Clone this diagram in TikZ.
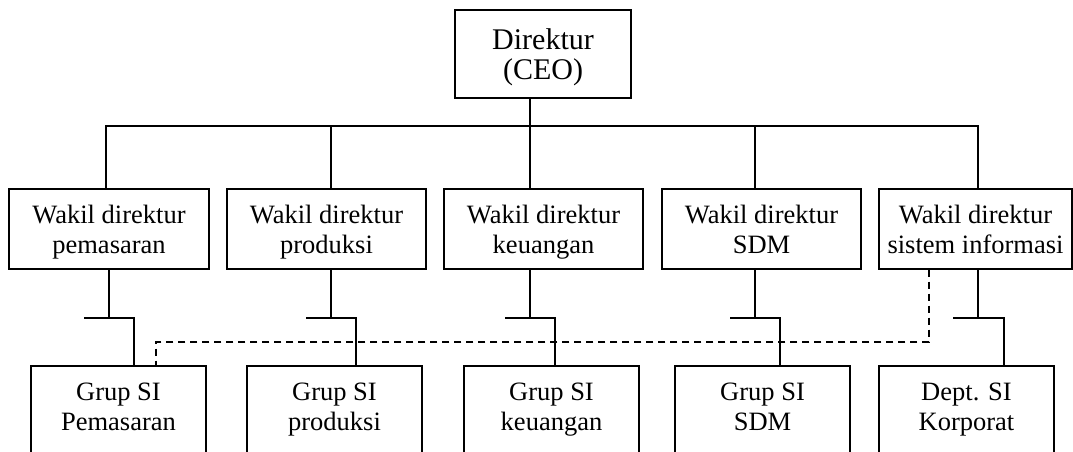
\documentclass[tikz,border=0pt]{standalone}
\usepackage{fontspec}
\setmainfont{Liberation Serif}
% struts that fix the first baseline and last depth of two-line labels
\newcommand\toprl{\rule{0pt}{27pt}}
\newcommand\botrl{\rule[-9pt]{0pt}{9pt}}
\begin{document}
\begin{tikzpicture}[x=1pt,y=-1pt,line width=1.2pt,
  box/.style={draw,rectangle,inner sep=0pt,align=center,
    font=\fontsize{26.5}{30}\selectfont},
  lbl/.style={inner sep=0pt,align=center,font=\fontsize{26.5}{30}\selectfont},
  dotted link/.style={dash pattern=on 7pt off 5pt}]
\useasboundingbox (0,0) rectangle (1073,452);
\clip (0,0) rectangle (1073,452);

% top level
\node[box,minimum width=176,minimum height=88,
      font=\fontsize{30}{31}\selectfont] (ceo) at (543,54)
  {\rule{0pt}{30pt}Direktur\\(CEO)\rule[-9pt]{0pt}{9pt}};

% vice directors
\node[box,minimum width=200,minimum height=80] (w1) at (109,229)
  {\toprl Wakil direktur\\pemasaran\botrl};
\node[box,minimum width=199,minimum height=80] (w2) at (326.5,229)
  {\toprl Wakil direktur\\produksi\botrl};
\node[box,minimum width=199,minimum height=80] (w3) at (543.5,229)
  {\toprl Wakil direktur\\keuangan\botrl};
\node[box,minimum width=199,minimum height=80] (w4) at (761.5,229)
  {\toprl Wakil direktur\\SDM\botrl};
\node[box,minimum width=193,minimum height=80] (w5) at (975.5,229)
  {\toprl Wakil direktur\\sistem informasi\botrl};

% IS groups (boxes run past the lower edge)
\node[box,minimum width=175,minimum height=100] (g1) at (118.5,416) {};
\node[box,minimum width=175,minimum height=100] (g2) at (334.5,416) {};
\node[box,minimum width=175,minimum height=100] (g3) at (551.5,416) {};
\node[box,minimum width=175,minimum height=100] (g4) at (762.5,416) {};
\node[box,minimum width=175,minimum height=100] (g5) at (966.5,416) {};
\node[lbl] (g1t) at (118.5,406) {\toprl Grup SI\\Pemasaran\botrl};
\node[lbl] (g2t) at (334.5,406) {\toprl Grup SI\\produksi\botrl};
\node[lbl] (g3t) at (551.5,406) {\toprl Grup SI\\keuangan\botrl};
\node[lbl] (g4t) at (762.5,406) {\toprl Grup SI\\SDM\botrl};
\node[lbl] (g5t) at (966.5,406) {\toprl Dept. SI\\Korporat\botrl};

% bus from the director to the vice directors
\coordinate (busL) at (106,126);
\coordinate (busR) at (978,126);
\coordinate (busC) at (530,126);
\draw (ceo.south -| busC) -- (busC);
\draw (w1.north -| busL) -- (busL) -- (busR) -- (w5.north -| busR);
\draw (w2.north -| 331,0) -- (331,126);
\draw (w3.north -| busC) -- (busC);
\draw (w4.north -| 755,0) -- (755,126);

% stepped links from each vice director down to its IS group
\foreach \w/\g/\dx/\ex in {w1/g1/109/134, w2/g2/331/356, w3/g3/530/555,
                           w4/g4/755/780, w5/g5/978/1004}{
  \draw (\w.south -| \dx,0) -- (\dx,318);
  \draw (\dx-25,318) -- (\ex,318) -- (\g.north -| \ex,0);
}

% dashed coordination line from the IS vice director
\coordinate (dr) at (929,342);
\coordinate (dl) at (156,342);
\draw[dotted link] (w5.south -| dr) -- (dr) -- (dl) -- (g1.north -| dl);
\end{tikzpicture}
\end{document}
